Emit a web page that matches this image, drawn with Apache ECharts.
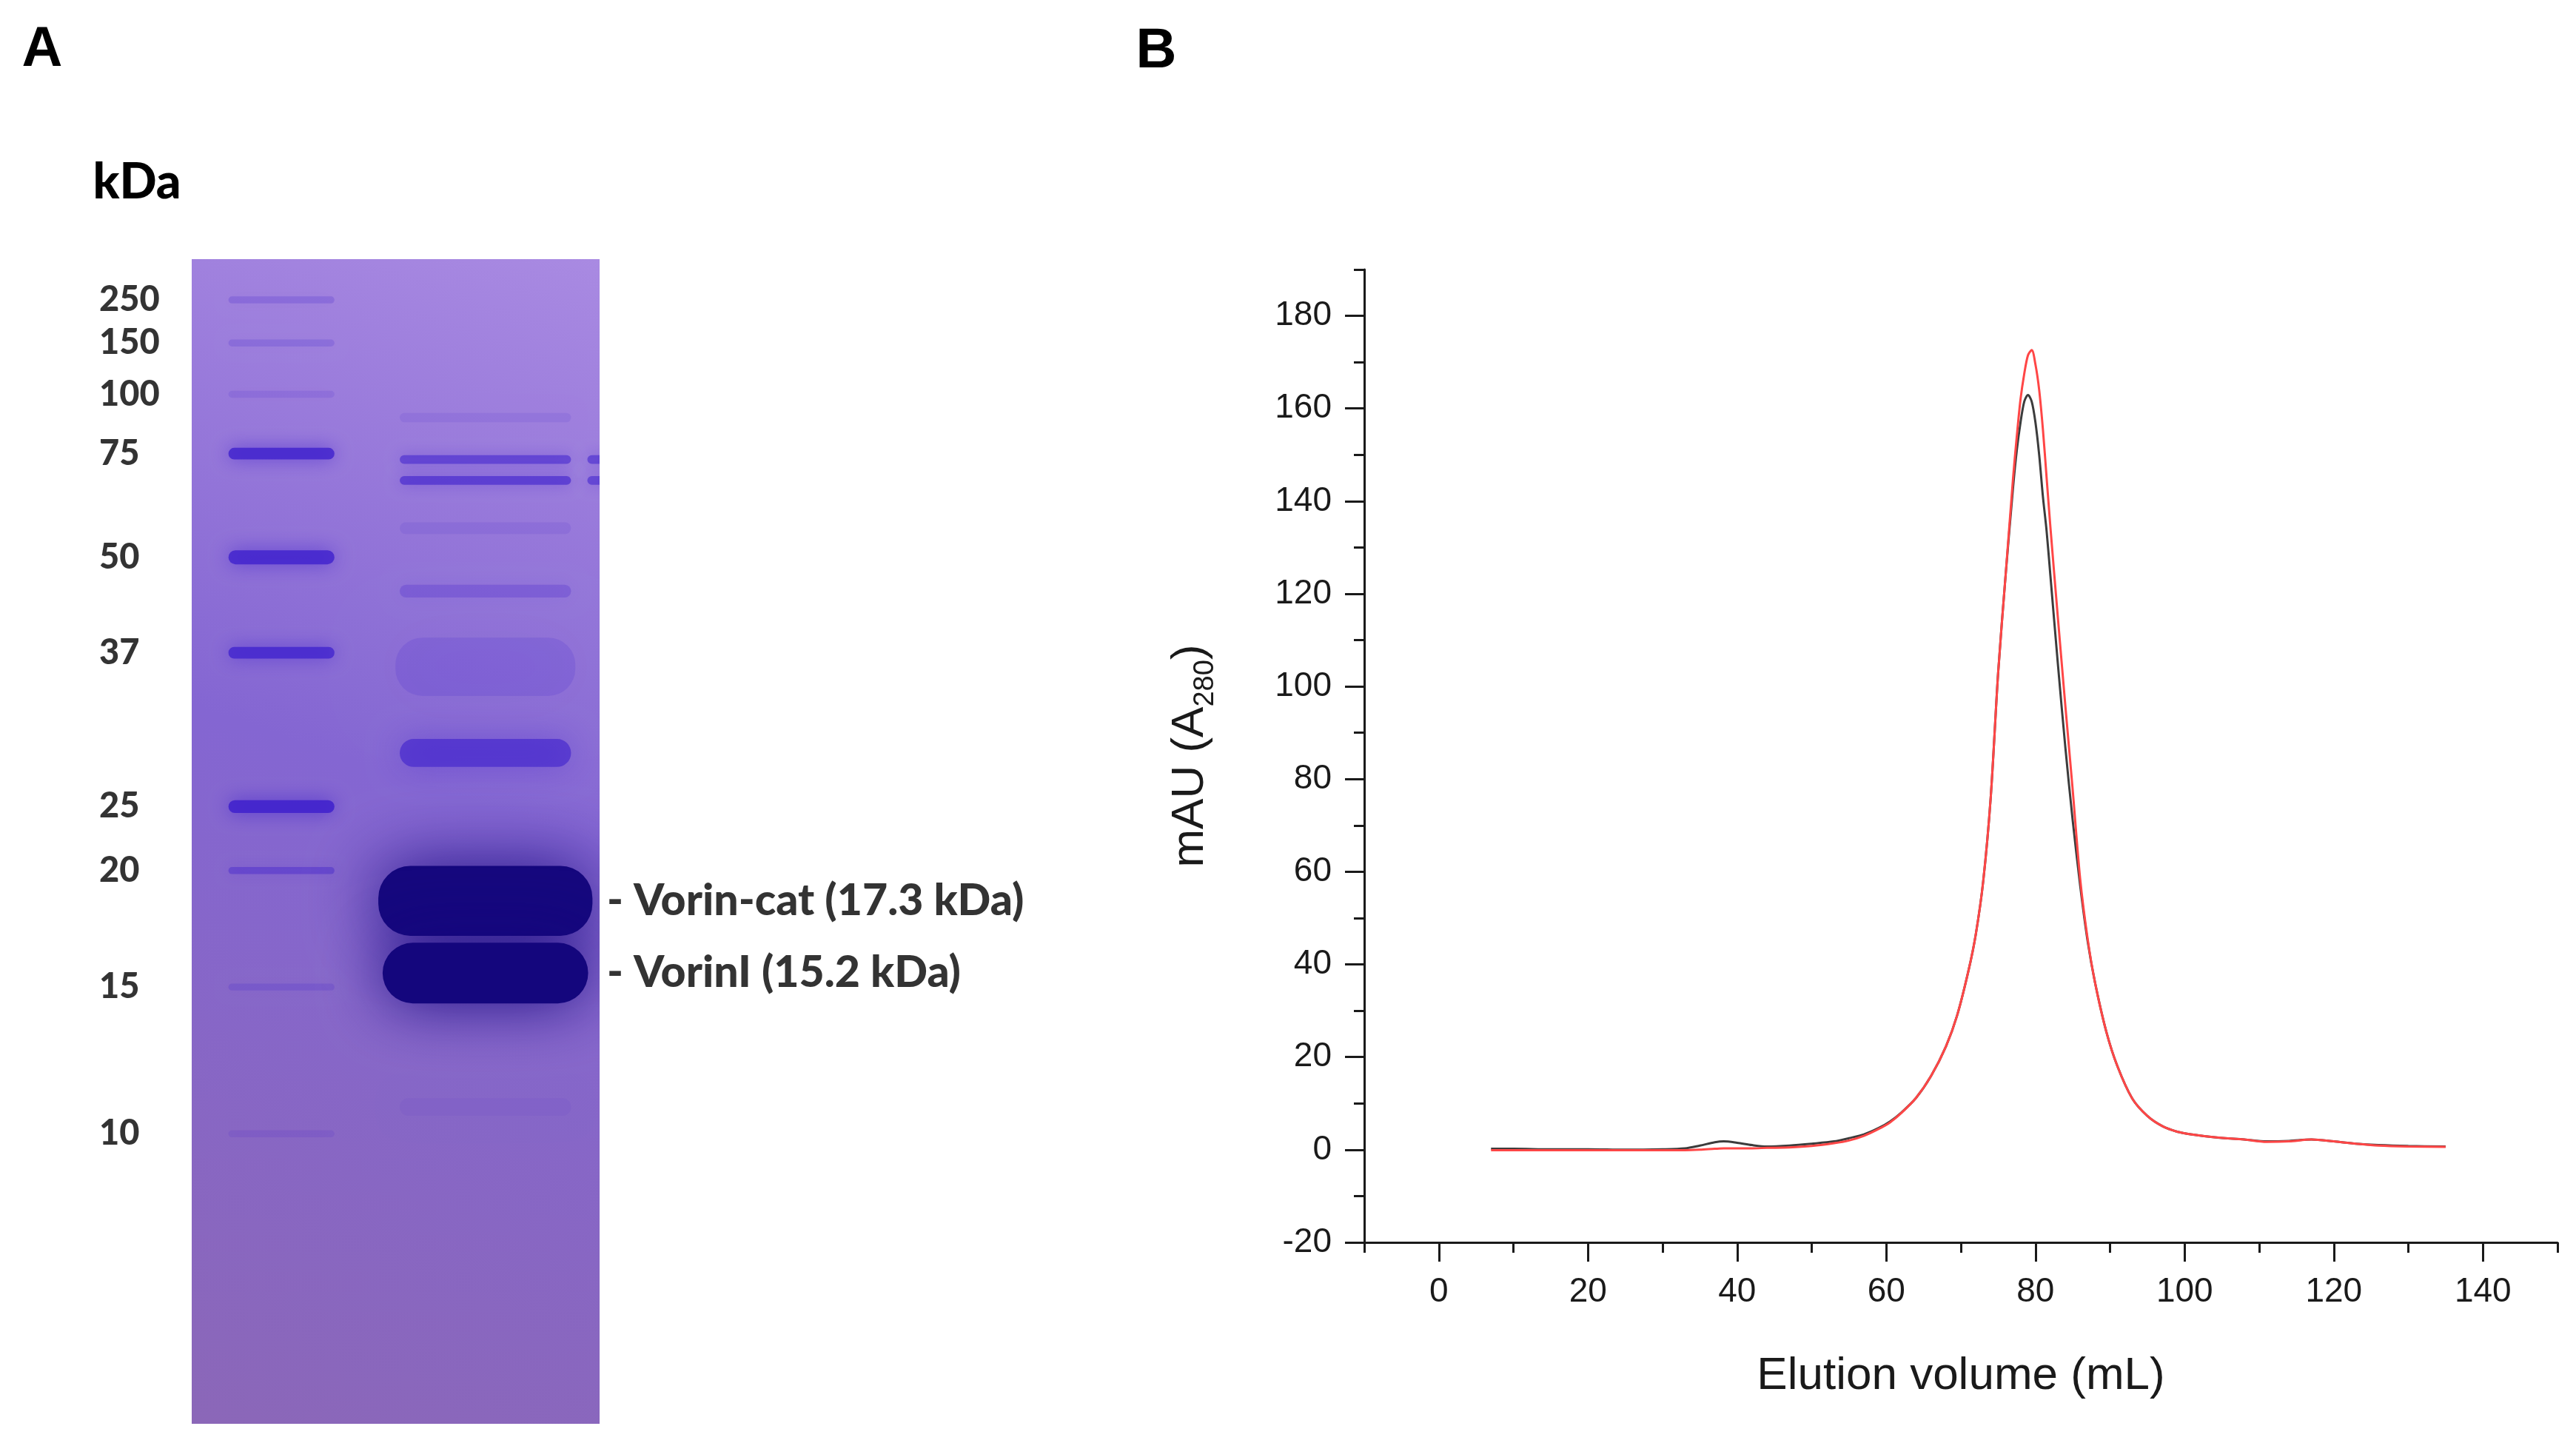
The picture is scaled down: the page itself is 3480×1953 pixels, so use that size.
<!DOCTYPE html>
<html lang="en">
<head>
<meta charset="UTF-8">
<title>Vorin purification</title>
<style>
  html, body { margin: 0; padding: 0; background: #fff; }
  #main { width: 3480px; height: 1953px; }
</style>
</head>
<body>
<div id="main"></div>
<script src="https://cdn.jsdelivr.net/npm/echarts@6/dist/echarts.min.js"></script>
<script>
// ---- panel B: size exclusion trace ----
var volume   = [7, 10, 15, 20, 25, 30, 33, 35, 37, 38.2, 40, 42, 44, 47, 50, 53, 55, 57, 59, 60.5, 62, 64, 66, 68, 69.5, 71,
                72, 73, 74, 75, 76, 77, 77.5, 78, 78.5, 79, 79.5, 80, 80.5, 81, 81.5, 82, 83, 84, 85, 86, 87, 88, 89.5, 91, 93,
                95, 97, 99, 101, 104, 108, 111, 114, 117, 120, 123, 126, 130, 135];
var absBlack = [0.2, 0.2, 0.1, 0.1, 0.0, 0.1, 0.3, 0.9, 1.6, 1.8, 1.5, 1.0, 0.7, 0.9, 1.3, 1.8, 2.5, 3.3, 4.7, 6.1, 8.0, 11.2, 15.9, 22.3, 29, 38.5,
                46.5, 58, 76, 103, 124, 143, 151, 157, 161.5, 162.9, 161.5, 157, 150, 141, 133.5, 124, 105, 87, 71, 57, 45, 36, 25.5, 18, 11,
                7.3, 5.1, 3.9, 3.3, 2.7, 2.2, 1.8, 1.9, 2.2, 1.8, 1.3, 1.0, 0.8, 0.7];
var absRed   = [-0.1, -0.1, -0.1, -0.1, -0.1, -0.1, -0.1, 0.0, 0.2, 0.3, 0.3, 0.3, 0.4, 0.5, 0.8, 1.4, 2.0, 3.0, 4.5, 5.9, 7.9, 11.2, 15.9, 22.3, 29, 38.5,
                46.5, 58, 76, 103, 124, 145, 154, 162, 167.5, 171.5, 172.6, 169.5, 164, 155.5, 145, 134.5, 115, 96, 77.6, 58.4, 45.5, 36, 25.5, 18, 11,
                7.3, 5.1, 3.9, 3.3, 2.7, 2.2, 1.7, 1.8, 2.2, 1.8, 1.3, 0.9, 0.7, 0.6];
var yTicks      = [-20, 0, 20, 40, 60, 80, 100, 120, 140, 160, 180];
var yMinorTicks = [-10, 10, 30, 50, 70, 90, 110, 130, 150, 170, 190];
var xTicks      = [0, 20, 40, 60, 80, 100, 120, 140];
var xMinorTicks = [-10, 10, 30, 50, 70, 90, 110, 130, 150];

// ---- panel A: SDS-PAGE gel (migration in % of gel height) ----
var markerKDa   = [250, 150, 100, 75, 50, 37, 25, 20, 15, 10];
var markerPos   = [3.5, 7.2, 11.6, 16.7, 25.6, 33.8, 47.0, 52.5, 62.5, 75.1];
var markerAlpha = [0.2, 0.18, 0.13, 0.8, 0.8, 0.75, 0.85, 0.4, 0.18, 0.12];
var markerThick = [0.6, 0.6, 0.6, 1.0, 1.2, 1.0, 1.1, 0.6, 0.6, 0.6];

var samplePos    = [13.6, 17.2, 19.0, 23.1, 28.5, 35.0, 42.4, 55.1, 61.3, 72.8];
var sampleAlpha  = [0.1, 0.55, 0.6, 0.1, 0.25, 0.15, 0.6, 1.0, 1.0, 0.06];
var sampleThick  = [0.8, 0.75, 0.75, 1.0, 1.1, 5.0, 2.4, 6.0, 5.2, 1.5];
var sampleSpread = [1.0, 1.0, 1.0, 1.0, 1.0, 1.05, 1.0, 1.25, 1.2, 1.0];

var nextLanePos   = [17.2, 19.0];
var nextLaneAlpha = [0.55, 0.55];

var bandNames    = ['Vorin-cat (17.3 kDa)', 'VorinI (15.2 kDa)'];
var namedBandPos = [55.1, 61.3];

// lane layout inside the gel (x: 0..1 of gel width, y: 0..100 of gel height)
var LANE_MARKER = 0.22, LANE_SAMPLE = 0.72, LANE_NEXT = 1.17;
var LANE_W = { marker: 0.26, sample: 0.42, next: 0.4 };
var STAIN = '62,32,205', STAIN_DARK = '20,6,125';

var chart = echarts.init(document.getElementById('main'));

function gelRect(api) {
  var p0 = api.coord([0, 0]);
  var p1 = api.coord([1, 100]);
  return { x: p0[0], y: p0[1], width: p1[0] - p0[0], height: p1[1] - p0[1] };
}

function renderGel(params, api) {
  return {
    type: 'rect',
    shape: gelRect(api),
    style: {
      fill: new echarts.graphic.LinearGradient(1, 0, 0, 1, [
        { offset: 0, color: '#a98ae2' },
        { offset: 0.45, color: '#8466d2' },
        { offset: 1, color: '#8b67b8' }
      ])
    }
  };
}

function bandRenderer(laneW) {
  return function (params, api) {
    var c = api.coord([api.value(0), api.value(1)]);
    var w = api.size([laneW * api.value(4), 0])[0];
    var h = api.size([0, api.value(3)])[1];
    var a = api.value(2);
    var rgb = a > 0.95 ? STAIN_DARK : STAIN;
    return {
      type: 'group',
      clipPath: { type: 'rect', shape: gelRect(api) },
      children: [{
        type: 'rect',
        shape: { x: c[0] - w / 2, y: c[1] - h / 2, width: w, height: h, r: Math.min(h / 2, w * 0.15) },
        style: {
          fill: 'rgba(' + rgb + ',' + a + ')',
          shadowBlur: h * 0.9 + 10,
          shadowColor: 'rgba(' + rgb + ',' + (a * 0.9) + ')'
        }
      }]
    };
  };
}

var markerData = markerPos.map(function (p, i) { return [LANE_MARKER, p, markerAlpha[i], markerThick[i], 1]; });
var sampleData = samplePos.map(function (p, i) { return [LANE_SAMPLE, p, sampleAlpha[i], sampleThick[i], sampleSpread[i]]; });
var nextData = nextLanePos.map(function (p, i) { return [LANE_NEXT, p, nextLaneAlpha[i], 0.75, 1]; });

var labelFont = 'Lato';
var axisFont = 'Liberation Sans';
var ink = '#1a1a1a';

var option = {
  backgroundColor: '#ffffff',
  animation: false,
  grid: [
    { left: 1843, top: 364, width: 1612, height: 1314, show: false },
    // gel area: x -0.25..2.1 so the kDa labels and band names fit inside
    { left: 121.25, top: 350, width: 1294.85, height: 1573, show: false },
    { left: 1843, top: 364, width: 1612, height: 1314, show: false }
  ],
  xAxis: [
    {
      gridIndex: 0, type: 'value', min: -10, max: 150,
      name: 'Elution volume (mL)', nameLocation: 'middle', nameGap: 150,
      nameTextStyle: { fontFamily: axisFont, fontSize: 62, color: ink },
      axisLine: { onZero: false, lineStyle: { color: ink, width: 3 } },
      axisTick: { customValues: xMinorTicks, length: 14, lineStyle: { color: ink, width: 3 } },
      axisLabel: { customValues: xTicks, margin: 44, fontFamily: axisFont, fontSize: 46, color: ink },
      splitLine: { show: false }
    },
    { gridIndex: 1, type: 'value', min: -0.25, max: 2.1, show: false },
    {
      gridIndex: 2, type: 'value', min: -10, max: 150,
      axisLine: { show: false, onZero: false },
      axisTick: { customValues: xTicks, length: 26, lineStyle: { color: ink, width: 3 } },
      axisLabel: { show: false }, splitLine: { show: false }
    }
  ],
  yAxis: [
    {
      gridIndex: 0, type: 'value', min: -20, max: 190,
      name: '{n|mAU (A}{s|280}{n|)}', nameLocation: 'middle', nameGap: 195,
      nameTextStyle: {
        fontFamily: axisFont, fontSize: 62, color: ink,
        rich: {
          n: { fontFamily: axisFont, fontSize: 62, lineHeight: 80, color: ink },
          s: { fontFamily: axisFont, fontSize: 38, lineHeight: 38, verticalAlign: 'bottom', color: ink }
        }
      },
      axisLine: { onZero: false, lineStyle: { color: ink, width: 3 } },
      axisTick: { customValues: yMinorTicks, length: 14, lineStyle: { color: ink, width: 3 } },
      axisLabel: { customValues: yTicks, margin: 44, fontFamily: axisFont, fontSize: 46, color: ink },
      splitLine: { show: false }
    },
    { gridIndex: 1, type: 'value', min: 0, max: 100, inverse: true, show: false },
    {
      gridIndex: 2, type: 'value', min: -20, max: 190,
      axisLine: { show: false, onZero: false },
      axisTick: { customValues: yTicks, length: 26, lineStyle: { color: ink, width: 3 } },
      axisLabel: { show: false }, splitLine: { show: false }
    }
  ],
  graphic: [
    { type: 'text', style: { text: 'A', x: 57, y: 68, align: 'center', verticalAlign: 'middle',
      font: 'bold 76px "Liberation Sans"', fill: '#000' } },
    { type: 'text', style: { text: 'B', x: 1562, y: 70, align: 'center', verticalAlign: 'middle',
      font: 'bold 76px "Liberation Sans"', fill: '#000' } },
    { type: 'text', style: { text: 'kDa', x: 185, y: 247, align: 'center', verticalAlign: 'middle',
      font: '900 66px Lato', fill: '#000' } }
  ],
  series: [
    {
      name: 'run 1', type: 'line', xAxisIndex: 0, yAxisIndex: 0,
      data: volume.map(function (v, i) { return [v, absBlack[i]]; }),
      showSymbol: false, smooth: 0.3,
      lineStyle: { color: '#3c3c3c', width: 3 }, z: 3
    },
    {
      name: 'run 2', type: 'line', xAxisIndex: 0, yAxisIndex: 0,
      data: volume.map(function (v, i) { return [v, absRed[i]]; }),
      showSymbol: false, smooth: 0.3,
      lineStyle: { color: '#ff4646', width: 3 }, z: 4
    },
    {
      type: 'custom', xAxisIndex: 1, yAxisIndex: 1, silent: true,
      renderItem: renderGel, data: [[0, 0]], z: 1
    },
    {
      type: 'custom', xAxisIndex: 1, yAxisIndex: 1, silent: true,
      renderItem: bandRenderer(LANE_W.marker), data: markerData, z: 2
    },
    {
      type: 'custom', xAxisIndex: 1, yAxisIndex: 1, silent: true,
      renderItem: bandRenderer(LANE_W.sample), data: sampleData, z: 2
    },
    {
      type: 'custom', xAxisIndex: 1, yAxisIndex: 1, silent: true,
      renderItem: bandRenderer(LANE_W.next), data: nextData, z: 2
    },
    {
      type: 'scatter', xAxisIndex: 1, yAxisIndex: 1, silent: true,
      symbolSize: 0, itemStyle: { color: 'transparent' },
      data: markerPos.map(function (p, i) { return { value: [-0.227, p], name: String(markerKDa[i]) }; }),
      label: { show: true, position: 'right', distance: 0, formatter: '{b}',
        fontFamily: labelFont, fontWeight: 900, fontSize: 47, color: '#000' }, z: 5
    },
    {
      type: 'scatter', xAxisIndex: 1, yAxisIndex: 1, silent: true,
      symbolSize: 0, itemStyle: { color: 'transparent' },
      data: namedBandPos.map(function (p, i) { return { value: [1.018, p], name: bandNames[i] }; }),
      label: { show: true, position: 'right', distance: 0, formatter: '- {b}',
        fontFamily: labelFont, fontWeight: 900, fontSize: 59, color: '#000' }, z: 5
    }
  ]
};

chart.setOption(option);
</script>
</body>
</html>
